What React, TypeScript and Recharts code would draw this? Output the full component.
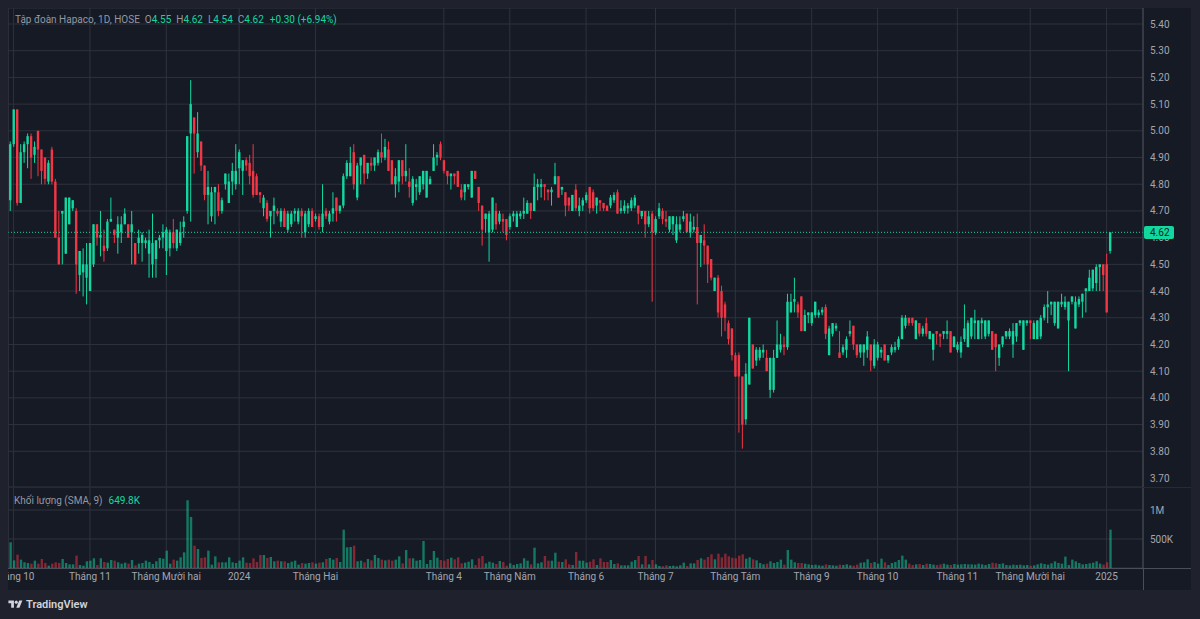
import { ComposedChart, Bar, XAxis, YAxis, CartesianGrid, ReferenceLine, Cell } from 'recharts'

// open, high, low, close, volume (thousand shares)
type Candle = [number, number, number, number, number]

const sep2023: Candle[] = [[4.74, 4.96, 4.7, 4.95, 443]]
const oct2023: Candle[] = [
  [4.95, 5.08, 4.94, 5.08, 132], [5.08, 5.08, 4.72, 4.73, 230], [4.73, 4.95, 4.73, 4.92, 144], [4.92, 4.96, 4.88, 4.95, 98],
  [4.95, 4.99, 4.86, 4.98, 86], [4.98, 4.99, 4.82, 4.9, 75], [4.91, 4.96, 4.88, 4.94, 127], [5.0, 5.0, 4.83, 4.93, 75],
  [4.93, 4.93, 4.8, 4.85, 155], [4.9, 4.9, 4.8, 4.82, 86], [4.81, 4.89, 4.8, 4.88, 40], [4.93, 4.94, 4.8, 4.81, 75],
  [4.81, 4.82, 4.6, 4.6, 98], [4.6, 4.7, 4.5, 4.5, 86], [4.69, 4.7, 4.5, 4.7, 155], [4.54, 4.75, 4.54, 4.75, 86],
  [4.65, 4.75, 4.65, 4.75, 63], [4.71, 4.74, 4.7, 4.74, 63], [4.7, 4.71, 4.39, 4.5, 213], [4.46, 4.55, 4.4, 4.55, 52],
  [4.47, 4.56, 4.38, 4.5, 40], [4.45, 4.58, 4.35, 4.5, 115],
]
const nov2023: Candle[] = [
  [4.4, 4.58, 4.4, 4.58, 127], [4.5, 4.65, 4.49, 4.65, 167], [4.65, 4.65, 4.57, 4.6, 52], [4.6, 4.7, 4.53, 4.61, 167],
  [4.57, 4.63, 4.51, 4.55, 104], [4.56, 4.67, 4.55, 4.66, 92], [4.66, 4.75, 4.66, 4.67, 138], [4.63, 4.63, 4.58, 4.61, 127],
  [4.6, 4.68, 4.54, 4.65, 98], [4.62, 4.68, 4.58, 4.65, 75], [4.65, 4.71, 4.65, 4.69, 92], [4.65, 4.65, 4.6, 4.6, 75],
  [4.62, 4.7, 4.5, 4.65, 138], [4.58, 4.58, 4.5, 4.5, 46], [4.58, 4.63, 4.54, 4.6, 75], [4.58, 4.62, 4.51, 4.61, 86],
  [4.58, 4.6, 4.56, 4.59, 127], [4.54, 4.63, 4.45, 4.59, 104], [4.5, 4.69, 4.45, 4.58, 69], [4.52, 4.59, 4.45, 4.59, 115],
  [4.59, 4.61, 4.56, 4.6, 173], [4.6, 4.65, 4.56, 4.62, 161],
]
const dec2023: Candle[] = [
  [4.55, 4.64, 4.46, 4.63, 299], [4.56, 4.63, 4.53, 4.62, 75], [4.62, 4.67, 4.56, 4.58, 144], [4.56, 4.63, 4.55, 4.63, 127],
  [4.58, 4.66, 4.57, 4.62, 184], [4.64, 4.68, 4.6, 4.66, 270], [4.7, 4.98, 4.69, 4.98, 1167], [4.99, 5.19, 4.66, 5.1, 880],
  [5.05, 5.05, 4.84, 4.99, 385], [4.92, 5.07, 4.9, 4.99, 328], [4.96, 4.96, 4.85, 4.87, 173], [4.87, 4.87, 4.74, 4.76, 184],
  [4.76, 4.85, 4.65, 4.79, 299], [4.68, 4.79, 4.66, 4.77, 58], [4.77, 4.79, 4.65, 4.79, 201], [4.77, 4.8, 4.68, 4.7, 98],
  [4.7, 4.75, 4.69, 4.74, 98], [4.8, 4.84, 4.78, 4.84, 98], [4.73, 4.84, 4.73, 4.81, 184], [4.81, 4.88, 4.76, 4.85, 98],
  [4.8, 4.95, 4.78, 4.85, 86],
]
const jan2024: Candle[] = [
  [4.86, 4.93, 4.8, 4.92, 127], [4.85, 4.89, 4.76, 4.89, 184], [4.89, 4.9, 4.85, 4.87, 92], [4.88, 4.91, 4.8, 4.83, 86],
  [4.85, 4.95, 4.75, 4.76, 167], [4.83, 4.84, 4.76, 4.76, 104], [4.77, 4.77, 4.73, 4.76, 224], [4.71, 4.76, 4.68, 4.75, 224],
  [4.73, 4.74, 4.66, 4.67, 173], [4.68, 4.7, 4.6, 4.7, 190], [4.7, 4.75, 4.65, 4.72, 115], [4.7, 4.71, 4.68, 4.69, 127],
  [4.66, 4.71, 4.64, 4.7, 115], [4.7, 4.71, 4.64, 4.64, 115], [4.63, 4.7, 4.62, 4.69, 86], [4.65, 4.7, 4.64, 4.69, 109],
  [4.69, 4.71, 4.66, 4.7, 127], [4.66, 4.71, 4.65, 4.7, 58], [4.7, 4.71, 4.6, 4.68, 86], [4.62, 4.7, 4.6, 4.69, 75],
  [4.65, 4.71, 4.64, 4.7, 86], [4.7, 4.71, 4.64, 4.64, 98],
]
const feb2024: Candle[] = [
  [4.67, 4.69, 4.66, 4.68, 75], [4.68, 4.69, 4.63, 4.64, 92], [4.64, 4.8, 4.62, 4.69, 98], [4.7, 4.71, 4.67, 4.68, 155],
  [4.66, 4.7, 4.65, 4.69, 173], [4.69, 4.77, 4.66, 4.71, 144], [4.75, 4.75, 4.66, 4.7, 173], [4.7, 4.72, 4.69, 4.72, 104],
  [4.72, 4.84, 4.71, 4.83, 661], [4.83, 4.89, 4.82, 4.88, 357], [4.83, 4.94, 4.83, 4.88, 362], [4.92, 4.95, 4.78, 4.8, 385],
  [4.75, 4.88, 4.74, 4.87, 115], [4.87, 4.9, 4.8, 4.9, 127], [4.91, 4.91, 4.8, 4.84, 98], [4.84, 4.88, 4.82, 4.88, 155],
]
const mar2024: Candle[] = [
  [4.88, 4.9, 4.85, 4.87, 132], [4.87, 4.9, 4.85, 4.9, 224], [4.88, 4.93, 4.87, 4.92, 173], [4.92, 4.99, 4.88, 4.9, 144],
  [4.9, 4.97, 4.89, 4.94, 132], [4.93, 4.96, 4.85, 4.85, 144], [4.89, 4.89, 4.8, 4.8, 127], [4.8, 4.86, 4.75, 4.83, 144],
  [4.81, 4.89, 4.77, 4.89, 201], [4.89, 4.89, 4.8, 4.83, 80], [4.83, 4.95, 4.81, 4.85, 310], [4.81, 4.86, 4.75, 4.79, 167],
  [4.73, 4.83, 4.72, 4.82, 167], [4.79, 4.82, 4.74, 4.8, 126], [4.77, 4.83, 4.76, 4.83, 138], [4.8, 4.85, 4.78, 4.85, 466],
  [4.75, 4.85, 4.75, 4.85, 69], [4.8, 4.83, 4.8, 4.82, 138], [4.85, 4.95, 4.85, 4.9, 293], [4.9, 4.92, 4.87, 4.91, 178],
  [4.95, 4.96, 4.89, 4.9, 138],
]
const apr2024: Candle[] = [
  [4.89, 4.89, 4.84, 4.85, 126], [4.85, 4.85, 4.8, 4.83, 155], [4.83, 4.84, 4.78, 4.84, 178], [4.84, 4.84, 4.8, 4.83, 150],
  [4.85, 4.85, 4.79, 4.79, 184], [4.78, 4.8, 4.74, 4.75, 80], [4.77, 4.8, 4.74, 4.8, 92], [4.79, 4.8, 4.78, 4.8, 109],
  [4.75, 4.85, 4.75, 4.85, 150], [4.85, 4.85, 4.82, 4.82, 52], [4.79, 4.79, 4.7, 4.73, 167], [4.72, 4.72, 4.57, 4.63, 207],
  [4.67, 4.69, 4.62, 4.69, 80], [4.62, 4.7, 4.51, 4.69, 109], [4.63, 4.75, 4.62, 4.75, 92], [4.7, 4.73, 4.63, 4.65, 69],
  [4.66, 4.7, 4.65, 4.69, 121], [4.67, 4.69, 4.62, 4.66, 103], [4.67, 4.67, 4.59, 4.61, 40],
]
const may2024: Candle[] = [
  [4.64, 4.69, 4.63, 4.68, 80], [4.68, 4.7, 4.66, 4.69, 52], [4.64, 4.7, 4.64, 4.69, 69], [4.68, 4.7, 4.67, 4.69, 80],
  [4.69, 4.75, 4.67, 4.7, 167], [4.69, 4.74, 4.69, 4.73, 126], [4.73, 4.73, 4.67, 4.7, 63], [4.7, 4.84, 4.7, 4.79, 350],
  [4.79, 4.82, 4.74, 4.8, 80], [4.79, 4.82, 4.75, 4.8, 98], [4.8, 4.8, 4.74, 4.79, 207], [4.78, 4.78, 4.74, 4.77, 126],
  [4.77, 4.79, 4.72, 4.78, 126], [4.8, 4.88, 4.8, 4.83, 264], [4.83, 4.83, 4.75, 4.75, 109], [4.78, 4.79, 4.76, 4.79, 103],
  [4.77, 4.77, 4.68, 4.72, 150], [4.75, 4.75, 4.7, 4.72, 63], [4.7, 4.76, 4.7, 4.76, 52], [4.78, 4.8, 4.7, 4.71, 276],
  [4.7, 4.75, 4.68, 4.72, 126], [4.72, 4.75, 4.7, 4.74, 126],
]
const jun2024: Candle[] = [
  [4.74, 4.77, 4.73, 4.76, 92], [4.79, 4.79, 4.69, 4.71, 109], [4.77, 4.78, 4.7, 4.71, 150], [4.72, 4.75, 4.69, 4.75, 52],
  [4.74, 4.74, 4.7, 4.73, 167], [4.73, 4.73, 4.7, 4.71, 103], [4.72, 4.72, 4.7, 4.7, 103], [4.72, 4.76, 4.71, 4.75, 138],
  [4.74, 4.77, 4.73, 4.76, 69], [4.77, 4.78, 4.69, 4.69, 80], [4.7, 4.74, 4.69, 4.71, 46], [4.7, 4.74, 4.69, 4.72, 46],
  [4.71, 4.73, 4.69, 4.72, 46], [4.71, 4.75, 4.7, 4.74, 109], [4.72, 4.76, 4.71, 4.75, 138], [4.72, 4.72, 4.65, 4.69, 207],
  [4.68, 4.7, 4.67, 4.7, 63], [4.7, 4.7, 4.6, 4.65, 207], [4.65, 4.7, 4.64, 4.68, 63], [4.69, 4.7, 4.36, 4.62, 138],
]
const jul2024: Candle[] = [
  [4.62, 4.68, 4.61, 4.67, 63], [4.68, 4.73, 4.67, 4.71, 35], [4.7, 4.71, 4.65, 4.67, 29], [4.67, 4.7, 4.64, 4.66, 46],
  [4.63, 4.68, 4.62, 4.68, 35], [4.65, 4.68, 4.61, 4.68, 40], [4.59, 4.68, 4.58, 4.65, 29], [4.63, 4.68, 4.62, 4.65, 46],
  [4.67, 4.7, 4.66, 4.68, 92], [4.69, 4.69, 4.62, 4.62, 35], [4.62, 4.69, 4.6, 4.66, 80], [4.63, 4.68, 4.62, 4.64, 80],
  [4.64, 4.69, 4.35, 4.58, 138], [4.58, 4.61, 4.49, 4.61, 167], [4.59, 4.65, 4.5, 4.57, 144], [4.57, 4.57, 4.43, 4.5, 190],
  [4.52, 4.52, 4.44, 4.45, 236], [4.4, 4.45, 4.4, 4.45, 150], [4.45, 4.46, 4.3, 4.32, 247], [4.4, 4.42, 4.23, 4.3, 184],
  [4.35, 4.36, 4.25, 4.3, 247], [4.28, 4.29, 4.2, 4.22, 201], [4.26, 4.26, 4.14, 4.16, 178],
]
const aug2024: Candle[] = [
  [4.16, 4.17, 4.08, 4.08, 167], [4.16, 4.17, 3.87, 4.08, 213], [4.08, 4.08, 3.81, 3.9, 236], [3.92, 4.13, 3.9, 4.09, 161],
  [4.05, 4.3, 4.05, 4.3, 184], [4.2, 4.2, 4.11, 4.11, 150], [4.14, 4.19, 4.12, 4.18, 132], [4.15, 4.19, 4.14, 4.18, 86],
  [4.17, 4.2, 4.15, 4.18, 63], [4.15, 4.18, 4.1, 4.1, 75], [4.03, 4.15, 4.0, 4.15, 115], [4.03, 4.18, 4.02, 4.15, 86],
  [4.15, 4.29, 4.15, 4.2, 104], [4.18, 4.24, 4.17, 4.2, 144], [4.2, 4.23, 4.16, 4.19, 58], [4.19, 4.39, 4.18, 4.36, 310],
  [4.32, 4.39, 4.32, 4.36, 144], [4.36, 4.45, 4.32, 4.37, 98], [4.35, 4.36, 4.3, 4.32, 86], [4.38, 4.38, 4.25, 4.25, 86],
  [4.25, 4.33, 4.25, 4.31, 75], [4.31, 4.32, 4.28, 4.32, 63],
]
const sep2024: Candle[] = [
  [4.28, 4.32, 4.27, 4.32, 52], [4.31, 4.36, 4.3, 4.36, 58], [4.31, 4.33, 4.3, 4.32, 46], [4.32, 4.34, 4.31, 4.33, 40],
  [4.34, 4.35, 4.22, 4.24, 63], [4.16, 4.27, 4.16, 4.26, 52], [4.24, 4.28, 4.23, 4.28, 46], [4.26, 4.28, 4.25, 4.27, 40],
  [4.17, 4.25, 4.15, 4.15, 58], [4.17, 4.2, 4.16, 4.19, 52], [4.18, 4.23, 4.15, 4.22, 63], [4.24, 4.29, 4.23, 4.25, 46],
  [4.27, 4.27, 4.18, 4.2, 40], [4.2, 4.2, 4.15, 4.16, 58], [4.17, 4.2, 4.15, 4.2, 92], [4.17, 4.2, 4.12, 4.2, 98],
  [4.18, 4.25, 4.15, 4.23, 150], [4.2, 4.2, 4.1, 4.14, 86], [4.12, 4.22, 4.11, 4.2, 104],
]
const oct2024: Candle[] = [
  [4.15, 4.21, 4.14, 4.2, 75], [4.17, 4.19, 4.15, 4.18, 161], [4.2, 4.2, 4.14, 4.14, 98], [4.14, 4.16, 4.13, 4.16, 52],
  [4.17, 4.2, 4.16, 4.19, 86], [4.18, 4.21, 4.17, 4.19, 104], [4.19, 4.23, 4.18, 4.22, 138], [4.22, 4.31, 4.22, 4.3, 213],
  [4.27, 4.31, 4.26, 4.3, 144], [4.3, 4.3, 4.27, 4.28, 75], [4.3, 4.3, 4.27, 4.28, 52], [4.22, 4.29, 4.22, 4.29, 63],
  [4.28, 4.28, 4.23, 4.24, 69], [4.24, 4.27, 4.23, 4.26, 52], [4.28, 4.3, 4.23, 4.24, 75], [4.22, 4.25, 4.22, 4.25, 69],
  [4.18, 4.24, 4.14, 4.24, 58], [4.25, 4.25, 4.2, 4.24, 52], [4.24, 4.24, 4.19, 4.23, 63], [4.24, 4.25, 4.22, 4.25, 75],
  [4.24, 4.29, 4.22, 4.25, 58], [4.25, 4.25, 4.17, 4.17, 52], [4.19, 4.23, 4.19, 4.23, 69],
]
const nov2024: Candle[] = [
  [4.18, 4.21, 4.17, 4.2, 58], [4.17, 4.23, 4.15, 4.21, 63], [4.22, 4.35, 4.21, 4.26, 69], [4.19, 4.29, 4.19, 4.28, 63],
  [4.23, 4.3, 4.22, 4.3, 63], [4.28, 4.33, 4.22, 4.29, 58], [4.22, 4.29, 4.22, 4.29, 75], [4.28, 4.3, 4.22, 4.29, 63],
  [4.23, 4.29, 4.22, 4.29, 52], [4.24, 4.29, 4.23, 4.29, 69], [4.25, 4.25, 4.18, 4.18, 92], [4.24, 4.24, 4.1, 4.19, 81],
  [4.15, 4.2, 4.12, 4.2, 69], [4.2, 4.23, 4.19, 4.23, 81], [4.23, 4.25, 4.22, 4.25, 52], [4.23, 4.26, 4.22, 4.25, 46],
  [4.2, 4.28, 4.15, 4.25, 58], [4.23, 4.28, 4.21, 4.28, 52], [4.28, 4.29, 4.27, 4.29, 58], [4.18, 4.29, 4.18, 4.29, 46],
  [4.28, 4.29, 4.27, 4.29, 52],
]
const dec2024: Candle[] = [
  [4.29, 4.29, 4.22, 4.28, 40], [4.22, 4.29, 4.22, 4.28, 46], [4.22, 4.29, 4.22, 4.29, 63], [4.23, 4.31, 4.22, 4.3, 81],
  [4.3, 4.35, 4.29, 4.34, 69], [4.34, 4.4, 4.28, 4.35, 58], [4.35, 4.36, 4.31, 4.36, 81], [4.28, 4.36, 4.27, 4.36, 115],
  [4.26, 4.36, 4.26, 4.36, 86], [4.35, 4.39, 4.34, 4.36, 75], [4.34, 4.38, 4.33, 4.36, 196], [4.29, 4.36, 4.1, 4.36, 52],
  [4.36, 4.38, 4.35, 4.38, 144], [4.26, 4.38, 4.26, 4.36, 115], [4.35, 4.38, 4.34, 4.37, 86], [4.36, 4.39, 4.3, 4.39, 63],
  [4.4, 4.41, 4.32, 4.41, 69], [4.4, 4.48, 4.4, 4.45, 81], [4.41, 4.48, 4.4, 4.48, 92], [4.43, 4.5, 4.4, 4.49, 115],
  [4.49, 4.5, 4.4, 4.5, 75], [4.5, 4.5, 4.4, 4.46, 58],
]
const jan2025: Candle[] = [[4.5, 4.54, 4.32, 4.32, 98], [4.55, 4.62, 4.54, 4.62, 661]]

const months = [sep2023, oct2023, nov2023, dec2023, jan2024, feb2024, mar2024, apr2024, may2024, jun2024, jul2024, aug2024, sep2024, oct2024, nov2024, dec2024, jan2025]
const monthLabels = ['', 'Tháng 10', 'Tháng 11', 'Tháng Mười hai', '2024', 'Tháng Hai', '', 'Tháng 4', 'Tháng Năm', 'Tháng 6', 'Tháng 7', 'Tháng Tám', 'Tháng 9', 'Tháng 10', 'Tháng 11', 'Tháng Mười hai', '2025']
const priceTicks = [3.7, 3.8, 3.9, 4.0, 4.1, 4.2, 4.3, 4.4, 4.5, 4.6, 4.7, 4.8, 4.9, 5.0, 5.1, 5.2, 5.3, 5.4]
const volumeTicks = [500000, 1000000]
const emptySlots = 9

const PRICE_MIN = 3.6663
const PRICE_MAX = 5.4599
const PRICE_H = 479

const UP = '#12d8a0'
const DOWN = '#f23645'
const UP_VOL = 'rgba(18, 216, 160, 0.5)'
const DOWN_VOL = 'rgba(242, 54, 69, 0.5)'
const GRID = '#2e323d'
const AXIS = '#4a4e59'
const TEXT = '#a3a6af'
const FONT = 'Roboto, "Noto Sans", sans-serif'

const rows: any[] = []
const tickIndex: number[] = []
const tickText: Record<number, string> = {}
months.forEach((bars, m) => {
  if (monthLabels[m]) {
    tickIndex.push(rows.length)
    tickText[rows.length] = monthLabels[m]
  }
  bars.forEach(([open, high, low, close, vol]) => {
    rows.push({ i: rows.length, open, high, low, close, range: [low, high], volume: vol * 1000, up: close >= open })
  })
})
const last = rows[rows.length - 1]
const prev = rows[rows.length - 2]
for (let k = 0; k < emptySlots; k++) rows.push({ i: rows.length })

const change = last.close - prev.close
const changePct = (change / prev.close) * 100
// vertical position of the last close on the price axis (same linear domain as the YAxis)
const lastY = ((PRICE_MAX - last.close) / (PRICE_MAX - PRICE_MIN)) * PRICE_H

function CandleShape(props: any) {
  const { x, y, width, height, payload } = props
  if (!payload || payload.open == null) return null
  const { open, high, low, close } = payload
  const top = Math.min(y, y + height)
  const span = Math.abs(height)
  const k = high > low ? span / (high - low) : 0
  const yOf = (p: number) => top + (high - p) * k
  const color = close >= open ? UP : DOWN
  const cx = x + width / 2
  const bodyTop = yOf(Math.max(open, close))
  const bodyH = Math.max(1, yOf(Math.min(open, close)) - bodyTop)
  return (
    <g>
      <rect x={cx - 0.5} y={top} width={1} height={Math.max(1, span)} fill={color} />
      <rect x={cx - 1.2} y={bodyTop} width={2.4} height={bodyH} fill={color} />
    </g>
  )
}

const tickStyle = { fill: TEXT, fontSize: 10, fontFamily: FONT }

export default function App() {
  return (
    <div style={{ position: 'absolute', left: 0, top: 0, width: 1200, height: 619, background: '#1f222c', fontFamily: FONT, overflow: 'hidden' }}>
      <div style={{ position: 'absolute', left: 8, top: 8, width: 1183, height: 582, background: '#161a25' }}>
        <div style={{ position: 'absolute', left: 0, top: 0 }}>
          <ComposedChart width={1183} height={PRICE_H} data={rows} margin={{ top: 0, right: 0, bottom: 0, left: 0.4 }}>
            <CartesianGrid stroke={GRID} />
            <XAxis dataKey="i" hide ticks={tickIndex} interval={0} />
            <YAxis
              orientation="right"
              domain={[PRICE_MIN, PRICE_MAX]}
              allowDataOverflow
              ticks={priceTicks}
              width={48}
              axisLine={{ stroke: AXIS }}
              tickLine={false}
              tickSize={0}
              tickMargin={7}
              tick={tickStyle}
              tickFormatter={(v: number) => v.toFixed(2)}
            />
            <ReferenceLine y={last.close} stroke={UP} strokeDasharray="1 2" />
            <Bar dataKey="range" shape={(p: any) => <CandleShape {...p} />} isAnimationActive={false} />
          </ComposedChart>
        </div>
        <div style={{ position: 'absolute', left: 0, top: PRICE_H }}>
          <ComposedChart width={1183} height={103} data={rows} margin={{ top: 0, right: 0, bottom: 0, left: 0.4 }}>
            <CartesianGrid stroke={GRID} />
            <XAxis
              dataKey="i"
              ticks={tickIndex}
              interval={0}
              height={22}
              axisLine={false}
              tickLine={false}
              tickSize={0}
              tickMargin={5}
              tick={tickStyle}
              tickFormatter={(v: number) => tickText[v] ?? ''}
            />
            <YAxis
              orientation="right"
              domain={[0, 1396600]}
              allowDataOverflow
              ticks={volumeTicks}
              width={48}
              axisLine={{ stroke: AXIS }}
              tickLine={false}
              tickSize={0}
              tickMargin={7}
              tick={tickStyle}
              tickFormatter={(v: number) => (v >= 1000000 ? `${v / 1000000}M` : `${v / 1000}K`)}
            />
            <Bar dataKey="volume" barSize={2.4} isAnimationActive={false}>
              {rows.map((r) => (
                <Cell key={r.i} fill={r.up ? UP_VOL : DOWN_VOL} />
              ))}
            </Bar>
          </ComposedChart>
        </div>

        {/* pane separator, time axis line, price axis line in the time row */}
        <div style={{ position: 'absolute', left: 0, top: PRICE_H, width: 1183, height: 1, background: '#262a35' }} />
        <div style={{ position: 'absolute', left: 0, top: 560, width: 1183, height: 1, background: AXIS }} />
        <div style={{ position: 'absolute', left: 1135, top: 560, width: 1, height: 22, background: AXIS }} />

        {/* last price tag on the price scale */}
        <div
          style={{
            position: 'absolute',
            left: 1136,
            top: lastY - 6.5,
            width: 30,
            height: 13,
            borderRadius: 2,
            background: UP,
            color: '#0d1f1a',
            fontSize: 10,
            lineHeight: '13px',
            paddingLeft: 6,
            boxSizing: 'border-box',
          }}
        >
          {last.close.toFixed(2)}
        </div>

        <div style={{ position: 'absolute', left: 7, top: 5, fontSize: 10, lineHeight: '14px', color: '#9598a1', whiteSpace: 'nowrap' }}>
          <span>Tập đoàn Hapaco, 1D, HOSE</span>
          <span style={{ marginLeft: 5 }}>O<span style={{ color: UP }}>{last.open.toFixed(2)}</span></span>
          <span style={{ marginLeft: 5 }}>H<span style={{ color: UP }}>{last.high.toFixed(2)}</span></span>
          <span style={{ marginLeft: 5 }}>L<span style={{ color: UP }}>{last.low.toFixed(2)}</span></span>
          <span style={{ marginLeft: 5 }}>C<span style={{ color: UP }}>{last.close.toFixed(2)}</span></span>
          <span style={{ marginLeft: 6, color: UP }}>{`+${change.toFixed(2)} (+${changePct.toFixed(2)}%)`}</span>
        </div>
        <div style={{ position: 'absolute', left: 6, top: 486, fontSize: 10, lineHeight: '14px', color: '#9598a1', whiteSpace: 'nowrap' }}>
          <span>Khối lượng (SMA, 9)</span>
          <span style={{ marginLeft: 6, color: UP }}>649.8K</span>
        </div>
      </div>

      <div style={{ position: 'absolute', left: 8, top: 598, display: 'flex', alignItems: 'center', gap: 3, color: '#d1d4dc' }}>
        <svg width={15} height={11} viewBox="0 0 36 28">
          <path d="M14 22H7V11H0V4h14v18z" fill="#d1d4dc" />
          <circle cx={20} cy={8} r={4} fill="#d1d4dc" />
          <path d="M28 22h-8l7.5-18h8L28 22z" fill="#d1d4dc" />
        </svg>
        <span style={{ fontSize: 11, fontWeight: 600, lineHeight: '13px' }}>TradingView</span>
      </div>
    </div>
  )
}
